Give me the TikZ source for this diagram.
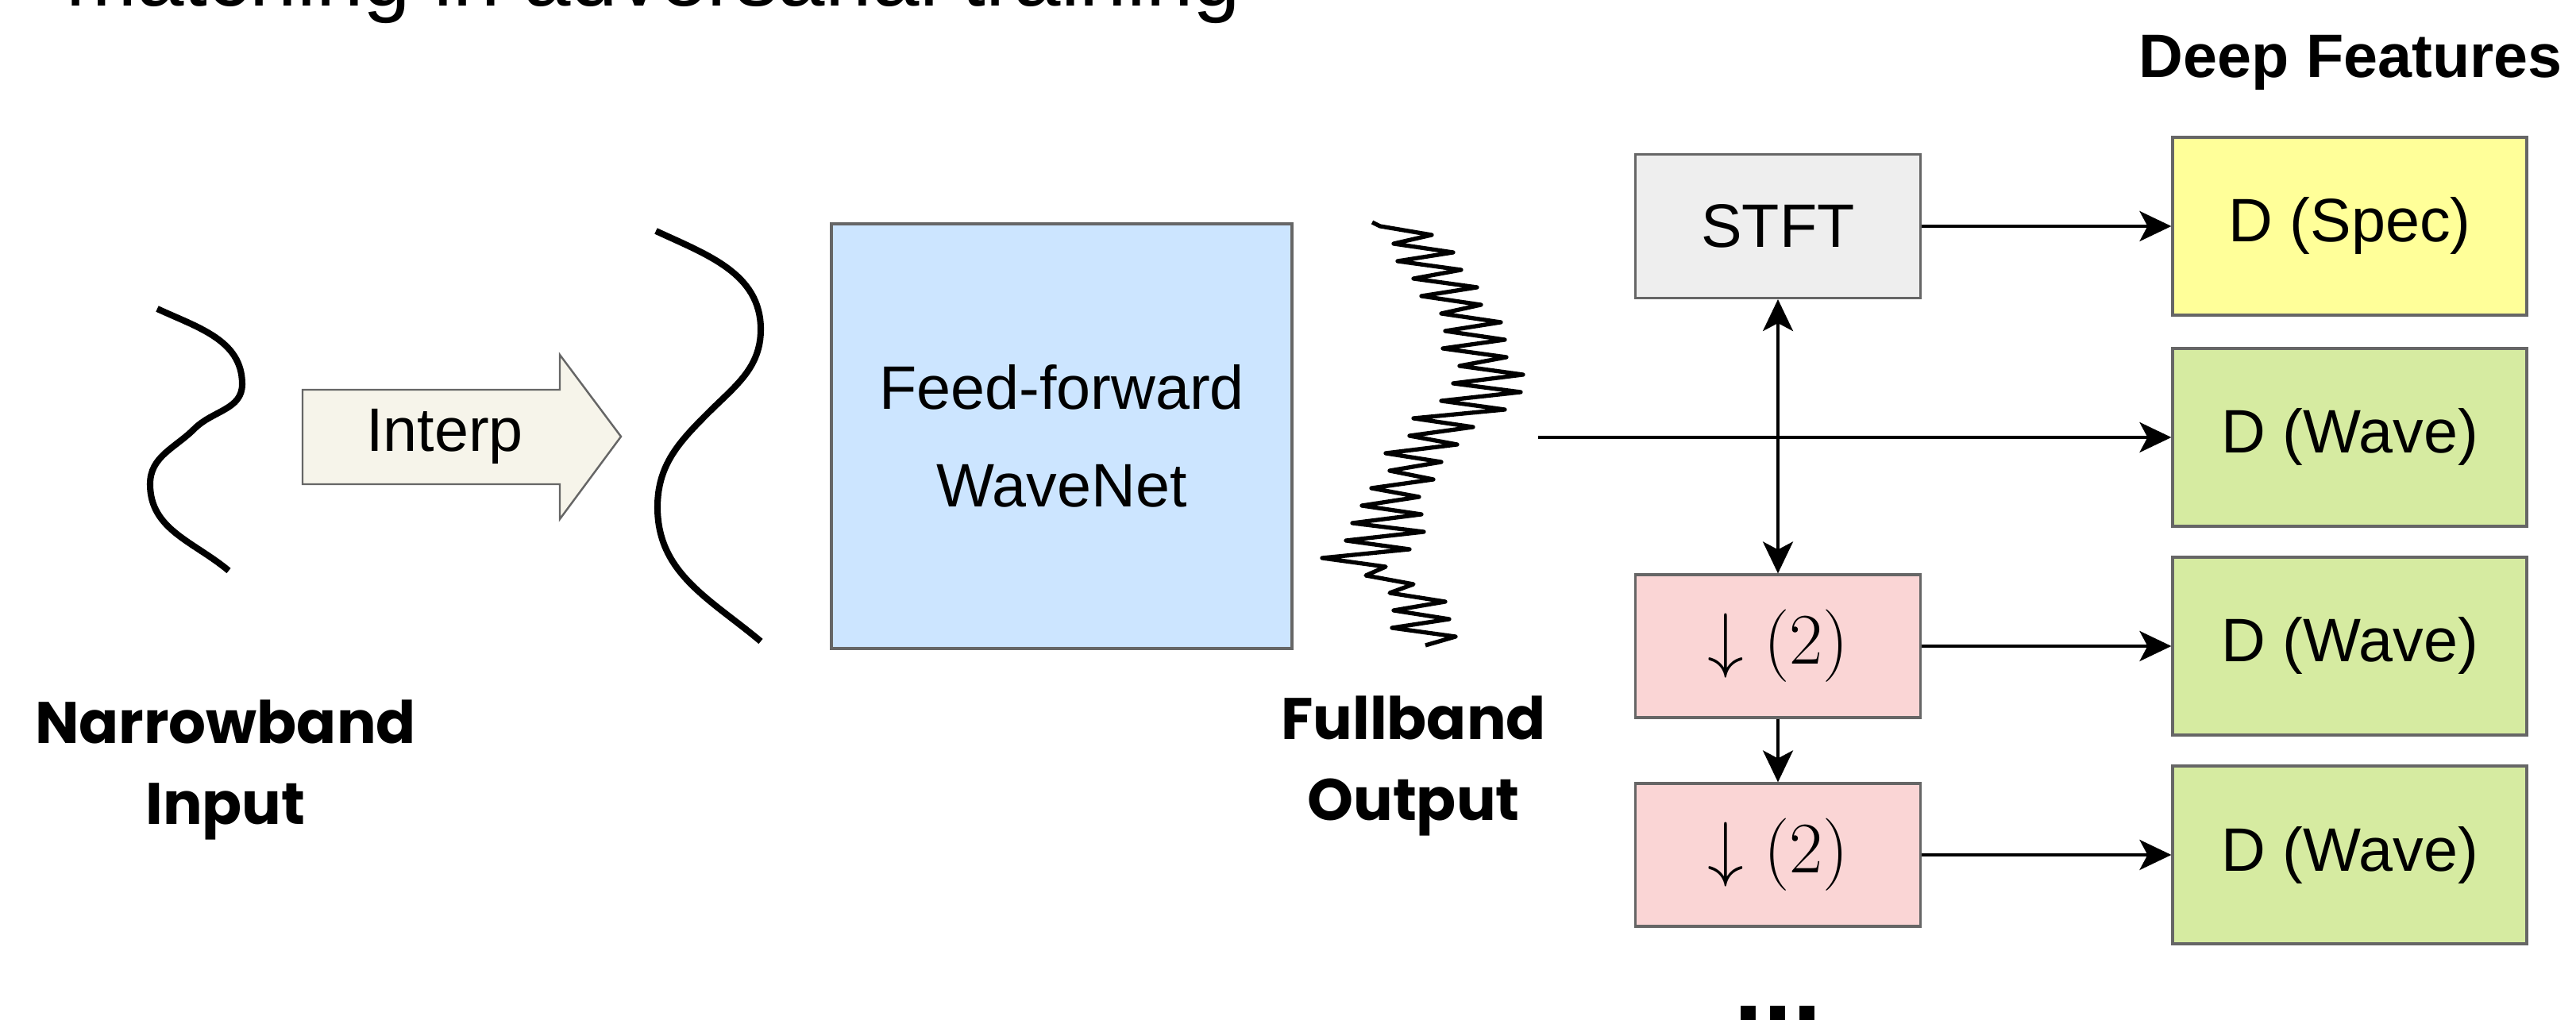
\RequirePackage{fix-cm}
\documentclass[tikz,border=0pt]{standalone}
\usepackage[no-math]{fontspec}
\setmainfont{Liberation Sans}
\newfontfamily\headfont{Poppins}
\usepackage{tikz}
\usetikzlibrary{arrows.meta, positioning, calc}
\definecolor{myborder}{RGB}{102,102,102}
\definecolor{mydark}{RGB}{0,0,0}
\definecolor{hdrblue}{RGB}{204,229,255}
\definecolor{hdrgray}{RGB}{238,238,238}
\definecolor{hdryellow}{RGB}{255,255,153}
\definecolor{hdrgreen}{RGB}{214,235,161}
\definecolor{hdrpink}{RGB}{250,213,213}
\definecolor{hdrcream}{RGB}{246,244,234}
\tikzset{
  block/.style={rectangle, draw=myborder, line width=0.9pt, align=center,
    inner sep=0pt, font=\fontsize{22}{35}\selectfont},
  specblock/.style={block, fill=hdryellow, minimum width=4.46cm, minimum height=2.24cm},
  waveblock/.style={block, fill=hdrgreen, minimum width=4.46cm, minimum height=2.24cm},
  stftblock/.style={block, fill=hdrgray, minimum width=3.59cm, minimum height=1.81cm},
  downblock/.style={block, fill=hdrpink, minimum width=3.59cm, minimum height=1.80cm,
    font=\fontsize{26}{30}\selectfont},
  netblock/.style={block, fill=hdrblue, minimum width=5.80cm, minimum height=5.35cm},
  caption/.style={font=\headfont\bfseries\fontsize{21}{29.3}\selectfont, align=center},
  signal/.style={line width=2.3pt, color=mydark},
  noisy/.style={line width=1.5pt, line join=round, color=mydark},
  arrow/.style={-{Stealth[length=0.4cm, width=0.38cm, inset=0.1cm]}, line width=1.1pt, color=mydark},
  dblarrow/.style={{Stealth[length=0.4cm, width=0.38cm, inset=0.1cm]}-{Stealth[length=0.4cm, width=0.38cm, inset=0.1cm]},
    line width=1.1pt, color=mydark}
}

\begin{document}
\begin{tikzpicture}
  \useasboundingbox (0,0) rectangle (32.44,12.85);
  % Title, cut off by the page edge
  \node[anchor=base west, font=\fontsize{30.4}{34}\selectfont] (title) at (0.71,12.77)
    {matching in adversarial training};
  \node[anchor=base, font=\fontsize{22}{26}\selectfont\bfseries] (deepfeat) at (29.60,11.87)
    {Deep Features};

  % Narrowband input and interpolation
  \draw[signal] (1.98,8.96) to[out=-25,in=90] (3.05,8.01) to[out=-90,in=45] (2.45,7.45)
    to[out=225,in=90] (1.89,6.75) to[out=-90,in=140] (2.88,5.66);
  \draw[fill=hdrcream, draw=myborder, line width=0.7pt] (3.81,7.94) -- (7.05,7.94) -- (7.05,8.38)
    -- (7.82,7.35) -- (7.05,6.31) -- (7.05,6.75) -- (3.81,6.75) -- cycle;
  \node[font=\fontsize{22}{26}\selectfont] (interp) at (5.60,7.35) {Interp};
  \draw[signal] (8.26,9.94) to[out=-25,in=90] (9.58,8.70) to[out=-90,in=45] (8.91,7.64)
    to[out=225,in=90] (8.28,6.46) to[out=-90,in=140] (9.58,4.77);
  \node[caption, anchor=base] (nbcap) at (2.84,2.46) {Narrowband\\Input};

  % Generator
  \node[netblock] (wavenet) at (13.37,7.355) {Feed-forward\\WaveNet};

  % Fullband output
  \draw[noisy] (17.28,10.05)
    \foreach \c/\a/\b [count=\i from 0] in {17.68/0.30/0.35, 17.85/0.30/0.45, 18.00/0.40/0.40,
      18.15/0.35/0.45, 18.30/0.40/0.35, 18.45/0.30/0.45, 18.55/0.35/0.40, 18.62/0.45/0.35,
      18.68/0.30/0.50, 18.70/0.40/0.45, 18.50/0.35/0.45, 18.25/0.45/0.30, 18.00/0.25/0.35,
      17.85/0.40/0.30, 17.70/0.20/0.35, 17.62/0.35/0.25, 17.55/0.40/0.35, 17.48/0.45/0.45,
      17.35/0.40/0.40, 17.15/0.50/0.30, 17.45/0.25/0.35, 17.80/0.30/0.40, 17.85/0.30/0.40,
      17.88/0.35/0.45}
    { -- ({\c-\a},{10-0.22*\i}) -- ({\c+\b},{9.89-0.22*\i}) } -- (17.95,4.72);
  \node[caption, anchor=base] (fbcap) at (17.80,2.51) {Fullband\\Output};
  \coordinate (fbout) at (19.37,7.34);

  % Multi-resolution branch
  \node[stftblock] (stft) at (22.39,10.00) {STFT};
  \node[downblock] (down1) at (22.39,4.71) {$\downarrow(2)$};
  \node[downblock] (down2) at (22.39,2.08) {$\downarrow(2)$};
  \node[anchor=base, font=\fontsize{38}{40}\selectfont\bfseries] (more) at (22.39,-0.03) {...};

  % Discriminators
  \node[specblock] (dspec) at (29.59,10.00) {D (Spec)};
  \node[waveblock] (dwave1) at (29.59,7.34) {D (Wave)};
  \node[waveblock] (dwave2) at (29.59,4.71) {D (Wave)};
  \node[waveblock] (dwave3) at (29.59,2.08) {D (Wave)};

  % Connections
  \draw[arrow] (stft) -- (dspec);
  \draw[arrow] (fbout) -- (dwave1);
  \draw[dblarrow] (stft) -- (down1);
  \draw[arrow] (down1) -- (down2);
  \draw[arrow] (down1) -- (dwave2);
  \draw[arrow] (down2) -- (dwave3);
\end{tikzpicture}
\end{document}
